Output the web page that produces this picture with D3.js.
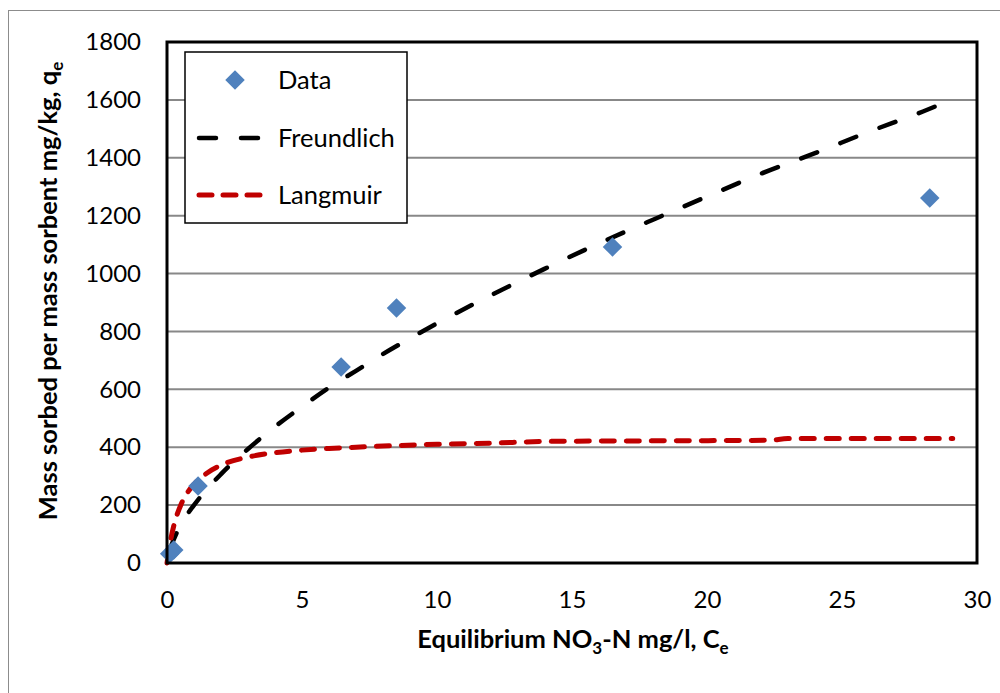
<!DOCTYPE html>
<html>
<head>
<meta charset="utf-8">
<script src="https://cdn.jsdelivr.net/npm/d3@7"></script>
<style>
  body { margin: 0; background: #fff; }
  text { font-family: Lato, "Open Sans", sans-serif; fill: #000; }
</style>
</head>
<body>
<svg id="chart" width="1000" height="693"></svg>
<script>
// measured data points (Ce mg/l, qe mg/kg)
var dataCe = [0.1, 0.25, 1.15, 6.45, 8.5, 16.5, 28.25];
var dataQe = [32, 45, 266, 677, 881, 1092, 1261];

// Freundlich fit line
var freundCe = [0.1, 0.5, 1, 2, 3, 4, 5, 6, 7, 8, 9, 10, 12, 14, 16, 18, 20, 22, 24, 26, 28, 29.1];
var freundQe = [48, 131, 200, 307, 394, 471, 540, 606, 664, 722, 776, 828, 925, 1017, 1104, 1186, 1266, 1345, 1416, 1490, 1560, 1603];

// Langmuir fit line
var langCe = [0, 0.1, 0.25, 0.5, 0.75, 1, 1.5, 2, 3, 4, 5, 6, 7, 8, 10, 12, 14, 18, 22.3, 23, 26, 29.1];
var langQe = [0, 61, 128, 198, 242, 272, 312, 338, 366, 381, 390, 396, 400, 404, 410, 414, 420, 422, 424, 430, 430, 430];

var xTicks = [0, 5, 10, 15, 20, 25, 30];
var yTicks = [0, 200, 400, 600, 800, 1000, 1200, 1400, 1600, 1800];

var svg = d3.select("#chart");
var plotL = 167, plotT = 42, plotR = 977, plotB = 563;

var x = d3.scaleLinear().domain([0, 30]).range([plotL, plotR]);
var y = d3.scaleLinear().domain([0, 1800]).range([plotB, plotT]);

// outer chart border (only left and top fall inside the picture)
svg.append("rect")
    .attr("x", 8.5).attr("y", 10.5)
    .attr("width", 1000).attr("height", 700)
    .attr("fill", "none").attr("stroke", "#8c8c8c").attr("stroke-width", 1);

// horizontal gridlines
svg.append("g").selectAll("line")
    .data(yTicks.slice(1))
    .join("line")
    .attr("x1", plotL).attr("x2", plotR)
    .attr("y1", function(d) { return y(d); })
    .attr("y2", function(d) { return y(d); })
    .attr("stroke", "#888").attr("stroke-width", 2);

// axes (labels only, no tick marks)
var xAxis = svg.append("g")
    .attr("transform", "translate(0," + plotB + ")")
    .call(d3.axisBottom(x).tickValues(xTicks).tickSize(0).tickPadding(28).tickFormat(d3.format("d")));
var yAxis = svg.append("g")
    .attr("transform", "translate(" + plotL + ",0)")
    .call(d3.axisLeft(y).tickValues(yTicks).tickSize(0).tickPadding(26).tickFormat(d3.format("d")));
[xAxis, yAxis].forEach(function(ax) {
    ax.select(".domain").remove();
    ax.selectAll("text").style("font-size", "24px").style("font-family", "Lato, sans-serif");
});

// lines
var line = d3.line()
    .curve(d3.curveMonotoneX)
    .x(function(d) { return x(d[0]); })
    .y(function(d) { return y(d[1]); });

svg.append("path")
    .datum(freundCe.map(function(c, i) { return [c, freundQe[i]]; }))
    .attr("d", line)
    .attr("fill", "none").attr("stroke", "#000")
    .attr("stroke-width", 4.5).attr("stroke-linecap", "round")
    .attr("stroke-dasharray", "17,25");

svg.append("path")
    .datum(langCe.map(function(c, i) { return [c, langQe[i]]; }))
    .attr("d", line)
    .attr("fill", "none").attr("stroke", "#c00000")
    .attr("stroke-width", 5).attr("stroke-linecap", "round")
    .attr("stroke-dasharray", "13,12");

// data diamonds
var diamond = d3.symbol().type(d3.symbolSquare).size(190);
svg.append("g").selectAll("path")
    .data(dataCe.map(function(c, i) { return [c, dataQe[i]]; }))
    .join("path")
    .attr("d", diamond)
    .attr("transform", function(d) { return "translate(" + x(d[0]) + "," + y(d[1]) + ") rotate(45)"; })
    .attr("fill", "#4f81bd");

// plot frame
svg.append("rect")
    .attr("x", plotL).attr("y", plotT)
    .attr("width", plotR - plotL).attr("height", plotB - plotT)
    .attr("fill", "none").attr("stroke", "#000").attr("stroke-width", 3);

// legend
var lg = svg.append("g");
lg.append("rect")
    .attr("x", 185).attr("y", 52).attr("width", 222).attr("height", 171)
    .attr("fill", "#fff").attr("stroke", "#000").attr("stroke-width", 1.5);
lg.append("path")
    .attr("d", diamond)
    .attr("transform", "translate(235,80) rotate(45)")
    .attr("fill", "#4f81bd");
lg.append("line")
    .attr("x1", 199).attr("x2", 264).attr("y1", 138).attr("y2", 138)
    .attr("stroke", "#000").attr("stroke-width", 4.5).attr("stroke-linecap", "round")
    .attr("stroke-dasharray", "17,25");
lg.append("line")
    .attr("x1", 199).attr("x2", 264).attr("y1", 195).attr("y2", 195)
    .attr("stroke", "#c00000").attr("stroke-width", 5).attr("stroke-linecap", "round")
    .attr("stroke-dasharray", "13,11");
lg.selectAll("text.lbl")
    .data([["Data", 80], ["Freundlich", 138], ["Langmuir", 195]])
    .join("text")
    .attr("x", 278).attr("y", function(d) { return d[1]; })
    .attr("dy", "0.35em")
    .style("font-size", "25.5px")
    .text(function(d) { return d[0]; });

// axis titles
var xt = svg.append("text")
    .attr("x", 573).attr("y", 648)
    .attr("text-anchor", "middle")
    .style("font-size", "25.5px").style("font-weight", "bold");
xt.append("tspan").text("Equilibrium NO");
xt.append("tspan").attr("dy", 6).style("font-size", "17px").text("3");
xt.append("tspan").attr("dy", -6).text("-N mg/l, C");
xt.append("tspan").attr("dy", 6).style("font-size", "17px").text("e");

var yt = svg.append("text")
    .attr("transform", "translate(57,291) rotate(-90)")
    .attr("text-anchor", "middle")
    .style("font-size", "25.5px").style("font-weight", "bold");
yt.append("tspan").text("Mass sorbed per mass sorbent mg/kg, q");
yt.append("tspan").attr("dy", 6).style("font-size", "17px").text("e");
</script>
</body>
</html>
